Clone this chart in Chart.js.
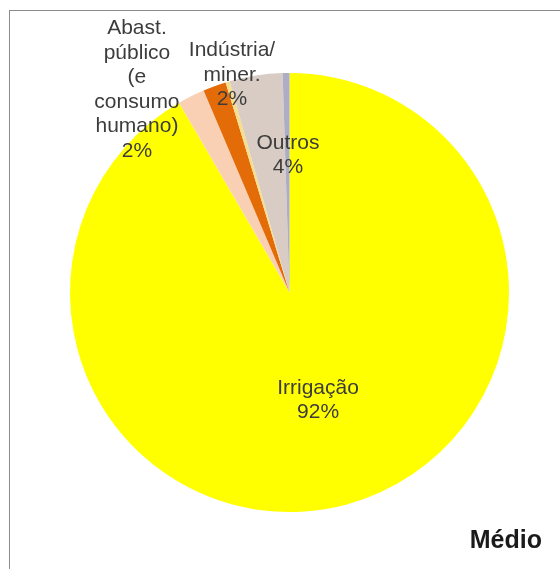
<!DOCTYPE html>
<html>
<head>
<meta charset="utf-8">
<script src="https://cdn.jsdelivr.net/npm/chart.js@4/dist/chart.umd.min.js"></script>
<style>
  html, body { margin: 0; padding: 0; background: #fff; }
  #wrap { position: relative; width: 560px; height: 569px; overflow: hidden; }
  #frame { position: absolute; left: 9px; top: 10px; width: 600px; height: 600px; border: 1px solid #8c8c8c; box-sizing: border-box; }
  #c { position: absolute; left: 0; top: 0; }
  #title { position: absolute; left: 462px; top: 525px; width: 80px; text-align: right;
           font: bold 25px "Liberation Sans", Arial, sans-serif; color: #1a1a1a; }
</style>
</head>
<body>
<div id="wrap">
  <div id="frame"></div>
  <canvas id="c" width="560" height="569"></canvas>
  <div id="title">Médio</div>
</div>
<script>
// ---- data ----
const categories = ["Irrigação", "Abast. público (e consumo humano)", "Indústria/ miner.", "", "Outros", ""];
const labelLines = [["Irrigação"], ["Abast.", "público", "(e", "consumo", "humano)"], ["Indústria/", "miner."], [], ["Outros"], []];
const values = [91.6, 2.0, 1.7, 0.3, 3.9, 0.5];

// ---- styles ----
const colors = ["#FFFF00", "#FAD0B4", "#E36C09", "#F6DE8A", "#D8CCC4", "#ADADC6"];
// label anchor relative to pie centre, in units of the radius
const labelAnchor = [[0.130, 0.490], [-0.695, -0.923], [-0.262, -0.991], null, [-0.007, -0.626], null];

const total = values.reduce((a, b) => a + b, 0);

const labelPlugin = {
  id: 'sliceLabels',
  afterDatasetsDraw(chart) {
    const ctx = chart.ctx;
    const meta = chart.getDatasetMeta(0);
    ctx.save();
    ctx.font = '21px "Liberation Sans", Arial, sans-serif';
    ctx.fillStyle = '#3c3c3c';
    ctx.textAlign = 'center';
    ctx.textBaseline = 'middle';
    const lh = 24.5;
    meta.data.forEach((arc, i) => {
      if (!labelAnchor[i]) return;
      const p = arc.getProps(['x', 'y', 'outerRadius'], true);
      const lines = labelLines[i].concat([Math.round(values[i] / total * 100) + '%']);
      const cx = p.x + labelAnchor[i][0] * p.outerRadius;
      const cy = p.y + labelAnchor[i][1] * p.outerRadius;
      const y0 = cy - (lines.length - 1) * lh / 2;
      lines.forEach((t, k) => ctx.fillText(t, cx, y0 + k * lh));
    });
    ctx.restore();
  }
};

new Chart(document.getElementById('c'), {
  type: 'pie',
  data: {
    labels: categories,
    datasets: [{ data: values, backgroundColor: colors, borderWidth: 0 }]
  },
  options: {
    responsive: false,
    animation: false,
    layout: { padding: { left: 70, right: 51, top: 73, bottom: 57 } },
    plugins: { legend: { display: false }, tooltip: { enabled: false } }
  },
  plugins: [labelPlugin]
});
</script>
</body>
</html>
